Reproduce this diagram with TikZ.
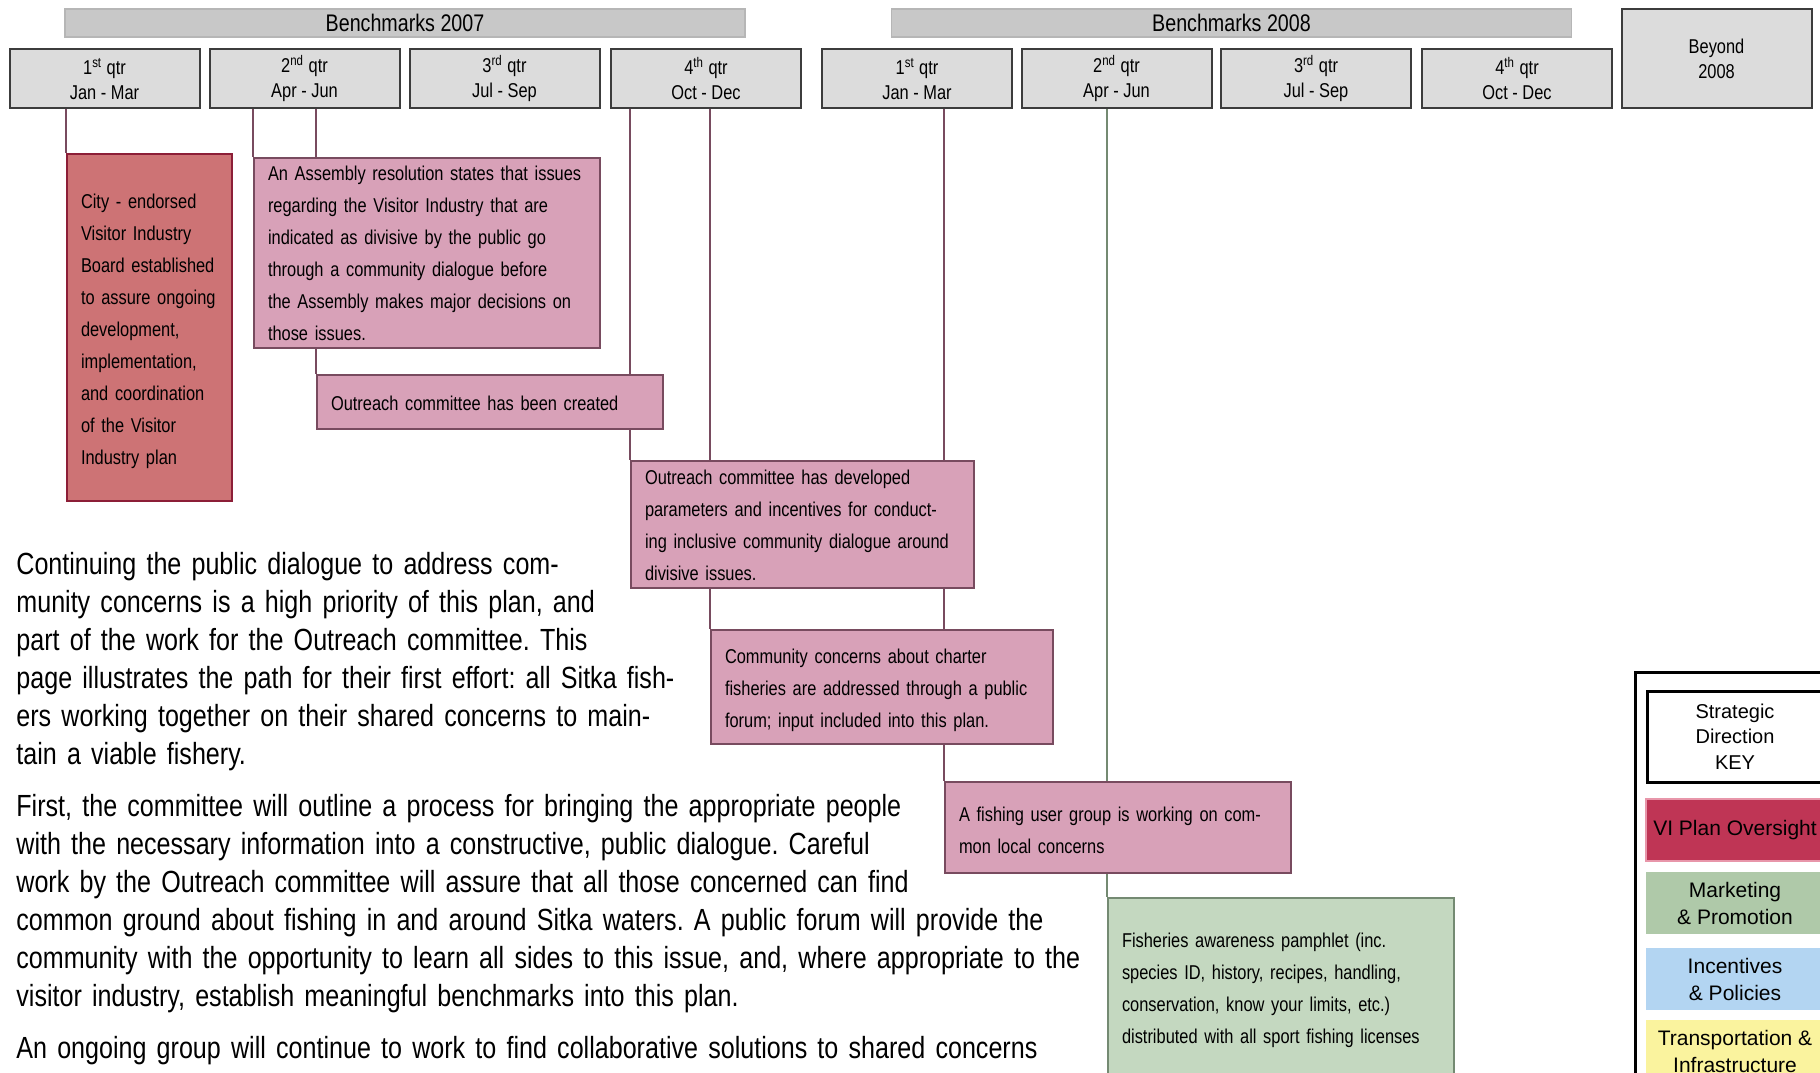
\documentclass[tikz,border=0pt]{standalone}
\usepackage{fontspec}
\setmainfont{Liberation Sans}
\newfontfamily\narrowfont[FakeStretch=0.82]{Liberation Sans}
\pgfdeclarelayer{bg}
\pgfsetlayers{bg,main}
\definecolor{hdrfill}{RGB}{220,220,220}
\definecolor{hdrdraw}{RGB}{60,60,60}
\definecolor{bmfill}{RGB}{200,200,200}
\definecolor{bmdraw}{RGB}{182,182,182}
\definecolor{redfill}{RGB}{205,115,117}
\definecolor{reddraw}{RGB}{140,30,55}
\definecolor{pinkfill}{RGB}{216,161,184}
\definecolor{pinkdraw}{RGB}{120,75,95}
\definecolor{linecol}{RGB}{120,75,95}
\definecolor{greenfill}{RGB}{196,216,192}
\definecolor{greendraw}{RGB}{116,138,114}
\definecolor{keyred}{RGB}{191,53,85}
\definecolor{keyredborder}{RGB}{232,150,170}
\definecolor{keygreen}{RGB}{175,201,169}
\definecolor{keyblue}{RGB}{179,213,242}
\definecolor{keyyellow}{RGB}{250,243,158}
\newcommand{\qstrut}{\vphantom{1\textsuperscript{th}}}
\newcommand{\fstrut}[1]{\rule{0pt}{#1}}
\newcommand{\nohyph}{\hyphenpenalty=10000\relax\exhyphenpenalty=10000\relax}
\tikzset{
  hdr/.style={draw=hdrdraw, line width=1pt, fill=hdrfill, minimum width=95pt, minimum height=29.5pt, inner sep=0pt, align=center, font=\narrowfont\fontsize{10}{12.6}\selectfont},
  bmbar/.style={draw=bmdraw, line width=0.8pt, fill=bmfill, minimum width=340pt, minimum height=14pt, inner sep=0pt, font=\narrowfont\fontsize{12}{13}\selectfont},
  evbox/.style={draw=pinkdraw, line width=1.2pt, fill=pinkfill, inner xsep=7pt, inner ysep=0pt, align=left, font=\narrowfont\fontsize{10}{16}\selectfont\nohyph},
  redbox/.style={evbox, draw=reddraw, fill=redfill},
  greenbox/.style={evbox, draw=greendraw, fill=greenfill},
  conn/.style={draw=linecol, line width=1pt},
  greenconn/.style={draw=greendraw, line width=1pt},
  para/.style={inner sep=0pt, text width=620pt, align=left, font=\narrowfont\fontsize{15.3}{19}\selectfont},
  keybox/.style={minimum width=89pt, minimum height=31pt, inner sep=0pt, align=center, font=\fontsize{10.5}{13.5}\selectfont},
}
\begin{document}
\frenchspacing
\begin{tikzpicture}[x=0.5pt,y=-0.5pt]
\useasboundingbox (0,0) rectangle (1820,1072);
% benchmark bars
\node[bmbar] (bm7) at (405,23) {Benchmarks 2007};
\node[bmbar] (bm8) at (1231.5,23) {Benchmarks 2008};
% quarter headers
\node[hdr] (q1a) at (104.5,78.5) {\qstrut1\textsuperscript{st} qtr\\Jan - Mar};
\node[hdr] (q2a) at (304.5,78.5) {\qstrut2\textsuperscript{nd} qtr\\Apr - Jun};
\node[hdr] (q3a) at (504.5,78.5) {\qstrut3\textsuperscript{rd} qtr\\Jul - Sep};
\node[hdr] (q4a) at (706,78.5) {\qstrut4\textsuperscript{th} qtr\\Oct - Dec};
\node[hdr] (q1b) at (917,78.5) {\qstrut1\textsuperscript{st} qtr\\Jan - Mar};
\node[hdr] (q2b) at (1116.5,78.5) {\qstrut2\textsuperscript{nd} qtr\\Apr - Jun};
\node[hdr] (q3b) at (1316,78.5) {\qstrut3\textsuperscript{rd} qtr\\Jul - Sep};
\node[hdr] (q4b) at (1517,78.5) {\qstrut4\textsuperscript{th} qtr\\Oct - Dec};
\node[hdr, minimum height=49.5pt] (beyond) at (1716.5,58.5) {Beyond\\2008};
% event boxes
\node[redbox, text width=68.5pt, minimum height=173.5pt] (red) at (149.5,327.5) {\fstrut{10.8pt}City - endorsed\\Visitor Industry\\Board established\\to assure ongoing\\development,\\implementation,\\and coordination\\of the Visitor\\Industry plan};
\node[evbox, text width=159pt, minimum height=95pt] (assembly) at (427,253) {An Assembly resolution states that issues\\regarding the Visitor Industry that are\\indicated as divisive by the public go\\through a community dialogue before\\the Assembly makes major decisions on\\those issues.};
\node[evbox, text width=159pt, minimum height=27pt] (created) at (490,402) {\fstrut{8.5pt}Outreach committee has been created};
\node[evbox, text width=157.5pt, minimum height=63.5pt] (developed) at (802.5,524.5) {\fstrut{8.5pt}Outreach committee has developed\\parameters and incentives for conduct-\\ing inclusive community dialogue around\\divisive issues.};
\node[evbox, text width=157pt, minimum height=57pt] (community) at (882,687) {\fstrut{10.8pt}Community concerns about charter\\fisheries are addressed through a public\\forum; input included into this plan.};
\node[evbox, text width=159pt, minimum height=45.5pt] (fishing) at (1118,827.5) {\fstrut{9.8pt}A fishing user group is working on com-\\mon local concerns};
\node[greenbox, text width=159pt, minimum height=90pt] (pamphlet) at (1281,988) {\fstrut{9.8pt}Fisheries awareness pamphlet (inc.\\species ID, history, recipes, handling,\\conservation, know your limits, etc.)\\distributed with all sport fishing licenses};
% connectors
\begin{pgfonlayer}{bg}
\draw[conn] (red.north west |- q1a.south) -- (red.north west);
\draw[conn] (assembly.north west |- q2a.south) -- (assembly.north west);
\draw[conn] (created.north west |- q2a.south) -- (created.north west);
\draw[conn] (developed.north west |- q4a.south) -- (developed.north west);
\draw[conn] (community.north west |- q4a.south) -- (community.north west);
\draw[conn] (fishing.north west |- q1b.south) -- (fishing.north west);
\draw[greenconn] (pamphlet.north west |- q2b.south) -- (pamphlet.north west);
\end{pgfonlayer}
% paragraphs
\node[para, anchor=base west] (p1) at (16,574) {Continuing the public dialogue to address com-\\munity concerns is a high priority of this plan, and\\part of the work for the Outreach committee. This\\page illustrates the path for their first effort: all Sitka fish-\\ers working together on their shared concerns to main-\\tain a viable fishery.};
\node[para, anchor=base west] (p2) at (16,816) {First, the committee will outline a process for bringing the appropriate people\\with the necessary information into a constructive, public dialogue. Careful\\work by the Outreach committee will assure that all those concerned can find\\common ground about fishing in and around Sitka waters. A public forum will provide the\\community with the opportunity to learn all sides to this issue, and, where appropriate to the\\visitor industry, establish meaningful benchmarks into this plan.};
\node[para, anchor=base west] (p3) at (16,1058) {An ongoing group will continue to work to find collaborative solutions to shared concerns};
% legend
\node[draw=black, line width=1.5pt, minimum width=102.5pt, minimum height=209pt, inner sep=0pt] (keyframe) at (1737.5,881) {};
\node[keybox, draw=black, line width=1.5pt, fill=white, minimum width=88pt, minimum height=45.5pt, font=\fontsize{10}{12.8}\selectfont] (keytitle) at (1735,736.5) {Strategic\\Direction\\KEY};
\node[keybox, fill=keyred, draw=keyredborder, line width=0.6pt] (kvi) at (1735,830) {VI Plan Oversight};
\node[keybox, fill=keygreen] (kmk) at (1735,903) {Marketing\\\& Promotion};
\node[keybox, fill=keyblue] (kinc) at (1735,979) {Incentives\\\& Policies};
\node[keybox, fill=keyyellow] (ktr) at (1735,1051) {Transportation \&\\Infrastructure};
\end{tikzpicture}
\end{document}
